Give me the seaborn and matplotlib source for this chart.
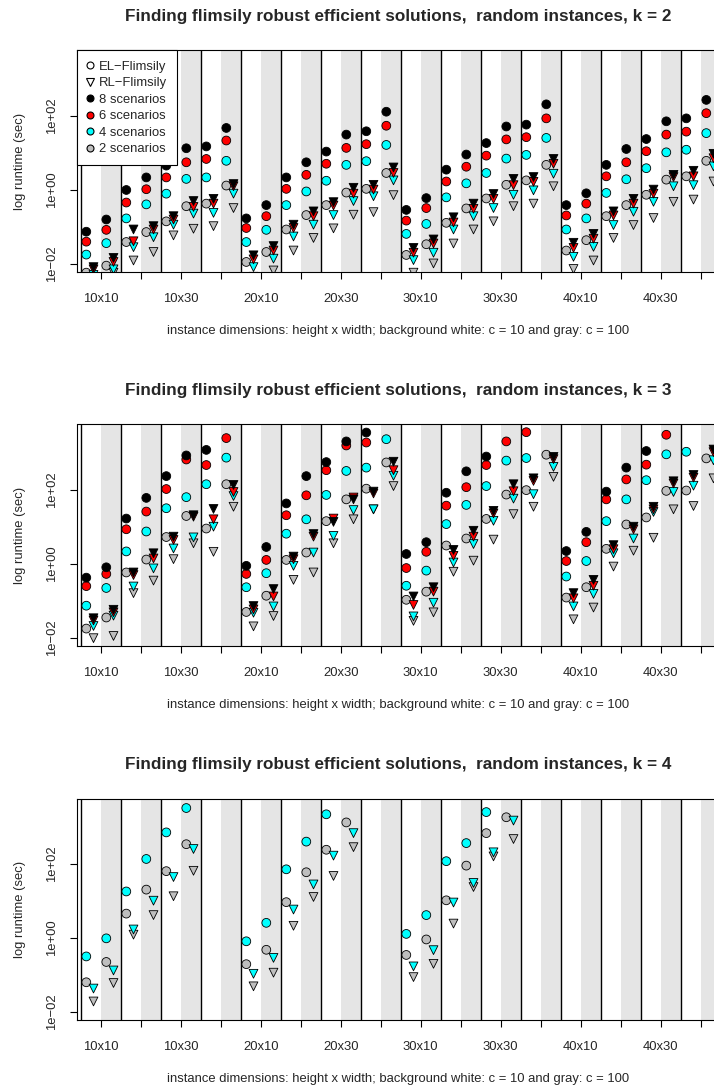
import numpy as np
import pandas as pd
import matplotlib
matplotlib.use("Agg")
import matplotlib.pyplot as plt
from matplotlib.lines import Line2D
import seaborn as sns

nan = np.nan

# Instance dimensions (height x width), one block per entry
DIMS = ["10x10", "10x20", "10x30", "10x40",
        "20x10", "20x20", "20x30", "20x40",
        "30x10", "30x20", "30x30", "30x40",
        "40x10", "40x20", "40x30", "40x40"]
C_VALUES = [10, 100]
SCENARIOS = [8, 6, 4, 2]
K_VALUES = [2, 3, 4]

# log10 of runtime in seconds, one list per number of scenarios
# ---- k = 2 ----
K2_EL_C10 = {
    8: [-1.13, 0.00, 0.66, 1.18, -0.77, 0.34, 1.04, 1.59, -0.54, 0.55, 1.27, 1.77, -0.41, 0.68, 1.38, 1.94],
    6: [-1.40, -0.34, 0.34, 0.84, -1.03, 0.03, 0.71, 1.24, -0.83, 0.23, 0.93, 1.43, -0.69, 0.37, 1.05, 1.58],
    4: [-1.75, -0.77, -0.10, 0.34, -1.41, -0.41, 0.25, 0.78, -1.19, -0.20, 0.46, 0.95, -1.07, -0.08, 0.59, 1.09],
    2: [-2.24, -1.41, -0.85, -0.37, -1.95, -1.07, -0.41, 0.03, -1.76, -0.89, -0.23, 0.26, -1.64, -0.71, -0.13, 0.37],
}
K2_RL_C10 = {
    8: [-2.09, -1.07, -0.71, -0.24, -1.77, -0.94, -0.33, 0.14, -1.57, -0.74, -0.11, 0.35, -1.43, -0.58, 0.01, 0.52],
    6: [-2.15, -1.39, -0.80, -0.37, -1.88, -1.03, -0.42, 0.01, -1.70, -0.88, -0.24, 0.22, -1.57, -0.69, -0.10, 0.37],
    4: [-2.30, -1.55, -0.94, -0.62, -2.09, -1.26, -0.68, -0.17, -1.90, -1.07, -0.49, -0.01, -1.81, -0.95, -0.32, 0.13],
    2: [-2.45, -1.91, -1.23, -0.98, -2.35, -1.64, -1.04, -0.60, -2.24, -1.45, -0.85, -0.37, -2.14, -1.30, -0.76, -0.26],
}
K2_EL_C100 = {
    8: [-0.80, 0.34, 1.13, 1.68, -0.41, 0.75, 1.50, 2.12, -0.22, 0.96, 1.72, 2.32, -0.09, 1.11, 1.86, 2.44],
    6: [-1.08, 0.02, 0.75, 1.34, -0.71, 0.41, 1.14, 1.74, -0.49, 0.63, 1.37, 1.94, -0.37, 0.75, 1.50, 2.08],
    4: [-1.44, -0.39, 0.30, 0.79, -1.08, -0.04, 0.68, 1.22, -0.92, 0.18, 0.85, 1.41, -0.77, 0.29, 1.02, 1.54],
    2: [-2.05, -1.14, -0.44, 0.12, -1.68, -0.68, -0.07, 0.46, -1.47, -0.50, 0.14, 0.68, -1.36, -0.41, 0.28, 0.79],
}
K2_RL_C100 = {
    8: [-1.84, -0.98, -0.30, 0.16, -1.52, -0.58, 0.06, 0.61, -1.34, -0.37, 0.30, 0.84, -1.19, -0.24, 0.41, 0.98],
    6: [-1.95, -1.07, -0.46, 0.10, -1.64, -0.71, -0.10, 0.46, -1.45, -0.51, 0.13, 0.71, -1.32, -0.37, 0.35, 0.86],
    4: [-2.15, -1.28, -0.64, -0.10, -1.86, -0.94, -0.30, 0.26, -1.70, -0.71, -0.13, 0.44, -1.54, -0.59, 0.10, 0.64],
    2: [-2.24, -1.68, -1.05, -0.49, -2.18, -1.30, -0.67, -0.14, -1.99, -1.07, -0.44, 0.10, -1.91, -0.95, -0.32, 0.23],
}

# ---- k = 3 ----  (nan: no result within the time limit)
K3_EL_C10 = {
    8: [-0.37, 1.23, 2.38, 3.09, -0.05, 1.64, 2.76, 3.56, 0.27, 1.93, 2.91, nan, 0.35, 1.96, 3.06, nan],
    6: [-0.60, 0.94, 2.03, 2.68, -0.27, 1.32, 2.54, 3.29, -0.11, 1.58, 2.68, 3.57, 0.08, 1.75, 2.69, nan],
    4: [-1.13, 0.34, 1.51, 2.16, -0.63, 0.82, 1.87, 2.61, -0.59, 1.08, 2.11, 2.87, -0.34, 1.16, 2.27, 3.04],
    2: [-1.75, -0.23, 0.73, 0.96, -1.30, 0.11, 1.16, 2.04, -0.97, 0.50, 1.22, 2.00, -0.91, 0.41, 1.26, 1.99],
}
K3_RL_C10 = {
    8: [-1.47, -0.23, 0.74, 1.49, -1.14, 0.20, 1.14, 1.96, -0.88, 0.38, 1.44, 2.32, -0.79, 0.51, 1.55, 2.41],
    6: [-1.53, -0.30, 0.65, 1.21, -1.23, 0.13, 1.23, 1.91, -1.11, 0.22, 1.37, 2.25, -0.93, 0.40, 1.48, 2.34],
    4: [-1.68, -0.61, 0.42, 1.01, -1.32, -0.05, 0.76, 1.48, -1.42, 0.04, 1.17, 1.89, -1.15, 0.29, 1.41, 2.12],
    2: [-2.01, -0.79, 0.13, 0.33, -1.69, -0.43, 0.56, 1.48, -1.54, -0.21, 0.66, 1.55, -1.50, -0.07, 0.71, 1.57],
}
K3_EL_C100 = {
    8: [-0.09, 1.79, 2.94, nan, 0.46, 2.38, 3.32, nan, 0.59, 2.51, nan, nan, 0.87, 2.61, nan, nan],
    6: [-0.27, 1.42, 2.83, 3.41, 0.11, 1.86, 3.21, nan, 0.33, 2.08, 3.32, nan, 0.59, 2.29, 3.50, nan],
    4: [-0.65, 0.88, 1.81, 2.88, -0.25, 1.21, 2.52, 3.38, -0.18, 1.60, 2.80, nan, 0.08, 1.75, 2.97, nan],
    2: [-1.45, 0.12, 1.30, 2.16, -0.86, 0.31, 1.75, 2.75, -0.75, 0.69, 1.88, 2.96, -0.63, 1.07, 1.98, 2.86],
}
K3_RL_C100 = {
    8: [-1.24, 0.29, 1.32, 2.14, -0.68, 0.81, 1.75, 2.77, -0.63, 0.90, 2.16, 2.90, -0.43, 1.01, 2.24, 3.10],
    6: [-1.31, 0.15, 1.28, 1.95, -0.88, 0.74, 1.80, 2.54, -0.75, 0.74, 1.97, 2.84, -0.59, 0.94, 2.18, 3.03],
    4: [-1.40, -0.12, 0.72, 1.84, -1.15, 0.31, 1.46, 2.39, -1.05, 0.54, 1.77, 2.63, -0.81, 0.69, 1.95, 2.81],
    2: [-1.95, -0.45, 0.56, 1.55, -1.41, -0.23, 1.21, 2.11, -1.31, 0.09, 1.35, 2.36, -1.18, 0.36, 1.48, 2.32],
}

# ---- k = 4 ----  (only 2 and 4 scenarios were run)
K4_EL_C10 = {
    4: [-0.50, 1.26, 2.86, nan, -0.09, 1.86, 3.35, nan, 0.11, 2.08, 3.41, nan, nan, nan, nan, nan],
    2: [-1.20, 0.66, 1.81, nan, -0.71, 0.97, 2.39, nan, -0.46, 1.02, 2.84, nan, nan, nan, nan, nan],
}
K4_RL_C10 = {
    4: [-1.37, 0.23, 1.65, nan, -0.97, 0.77, 2.23, nan, -0.77, 0.96, 2.32, nan, nan, nan, nan, nan],
    2: [-1.72, 0.09, 1.13, nan, -1.31, 0.33, 1.68, nan, -1.06, 0.39, 2.21, nan, nan, nan, nan, nan],
}
K4_EL_C100 = {
    4: [-0.01, 2.14, 3.52, nan, 0.41, 2.61, nan, nan, 0.62, 2.57, nan, nan, nan, nan, nan, nan],
    2: [-0.65, 1.31, 2.54, nan, -0.32, 1.78, 3.13, nan, -0.04, 1.96, 3.27, nan, nan, nan, nan, nan],
}
K4_RL_C100 = {
    4: [-0.88, 1.01, 2.41, nan, -0.54, 1.45, 2.84, nan, -0.33, 1.49, 3.18, nan, nan, nan, nan, nan],
    2: [-1.22, 0.62, 1.82, nan, -0.94, 1.11, 2.46, nan, -0.70, 1.38, 2.68, nan, nan, nan, nan, nan],
}

RESULTS = {
    (2, "EL", 10): K2_EL_C10, (2, "RL", 10): K2_RL_C10,
    (2, "EL", 100): K2_EL_C100, (2, "RL", 100): K2_RL_C100,
    (3, "EL", 10): K3_EL_C10, (3, "RL", 10): K3_RL_C10,
    (3, "EL", 100): K3_EL_C100, (3, "RL", 100): K3_RL_C100,
    (4, "EL", 10): K4_EL_C10, (4, "RL", 10): K4_RL_C10,
    (4, "EL", 100): K4_EL_C100, (4, "RL", 100): K4_RL_C100,
}

SCEN_COLORS = {8: "black", 6: "red", 4: "cyan", 2: "#BEBEBE"}
BAND_GRAY = "#E5E5E5"

# Horizontal placement inside a block: white half (c=10) on the left,
# gray half (c=100) on the right; EL circle then RL triangle in each half.
HALF_START = {10: -0.5, 100: 0.0}
METHOD_OFFSET = {"EL": 0.14, "RL": 0.32}
METHOD_ORDER = {"EL": 0, "RL": 1}

rows = []
for (k, method, c), table in RESULTS.items():
    for scen, values in table.items():
        for j, v in enumerate(values):
            if np.isnan(v):
                continue
            rows.append(dict(k=k, method=method, c=c, scen=scen,
                             dims=DIMS[j],
                             x=j + 1 + HALF_START[c] + METHOD_OFFSET[method],
                             runtime=10.0 ** v,
                             morder=METHOD_ORDER[method]))
df = pd.DataFrame(rows)
# circles first, then triangles; within each, 2 scenarios at the back, 8 on top
df = df.sort_values(["morder", "scen"], kind="stable").reset_index(drop=True)

sns.set_style("ticks")
plt.rcParams["font.family"] = ["Liberation Sans", "DejaVu Sans"]
plt.rcParams["axes.linewidth"] = 0.8

W, H = 714, 1089
fig = plt.figure(figsize=(W / 100, H / 100), dpi=100)

BASE_FS = 9.4
TITLE_FS = 12.3
AX_LEFT, AX_RIGHT = 76.5, 720.0
PX_PER_UNIT = 40.0
X0 = 0.5 - (80.7 - AX_LEFT) / PX_PER_UNIT
X1 = X0 + (AX_RIGHT - AX_LEFT) / PX_PER_UNIT
PANEL_STEP = 374
AX_H = 221.5

for i, k in enumerate(K_VALUES):
    top = 50.5 + PANEL_STEP * i
    bot = top + AX_H
    ax = fig.add_axes([AX_LEFT / W, 1 - bot / H, (AX_RIGHT - AX_LEFT) / W, AX_H / H])

    for j in range(len(DIMS)):
        ax.axvspan(j + 1, j + 1.5, color=BAND_GRAY, lw=0, zorder=0)
    for j in range(len(DIMS) + 1):
        ax.axvline(j + 0.5, color="black", lw=1.0, zorder=1)

    sub = df[df["k"] == k]
    sns.scatterplot(data=sub, x="x", y="runtime", hue="scen", palette=SCEN_COLORS,
                    style="method", markers={"EL": "o", "RL": "v"},
                    s=40, edgecolor="black", linewidth=0.6, legend=False,
                    ax=ax, zorder=3)

    ax.set_yscale("log")
    ax.set_ylim(10 ** -2.222, 10 ** 3.778)
    ax.set_xlim(X0, X1)

    ax.set_xticks(range(1, len(DIMS) + 1))
    ax.set_xticklabels([d if j % 2 == 0 else "" for j, d in enumerate(DIMS)], fontsize=BASE_FS)
    ax.set_yticks([1e-2, 1e0, 1e2])
    ax.set_yticklabels(["1e\u221202", "1e+00", "1e+02"], fontsize=BASE_FS,
                       rotation=90, va="center")
    ax.yaxis.set_minor_locator(matplotlib.ticker.NullLocator())
    ax.tick_params(axis="both", which="major", length=5, width=0.8, color="black")
    ax.tick_params(axis="x", pad=10)
    ax.tick_params(axis="y", pad=8)
    for sp in ax.spines.values():
        sp.set_color("black")
        sp.set_linewidth(0.8)

    ax.set_xlabel("instance dimensions: height x width; background white: c = 10 and gray: c = 100",
                  fontsize=BASE_FS)
    ax.xaxis.label.set_va("center")
    ax.xaxis.set_label_coords(0.5, -59.0 / AX_H)
    ax.set_ylabel("log runtime (sec)", fontsize=BASE_FS)
    ax.yaxis.label.set_va("center")
    ax.yaxis.set_label_coords((20 - AX_LEFT) / (AX_RIGHT - AX_LEFT), 0.5)

    fig.text(0.5 * (AX_LEFT + AX_RIGHT) / W, 1 - (16 + PANEL_STEP * i) / H,
             f"Finding flimsily robust efficient solutions,  random instances, k = {k}",
             ha="center", va="center", fontsize=TITLE_FS, fontweight="bold")

    if i == 0:
        handles = [
            Line2D([], [], ls="none", marker="o", mfc="white", mec="black", ms=5, mew=0.8,
                   label="EL\u2212Flimsily"),
            Line2D([], [], ls="none", marker="v", mfc="white", mec="black", ms=5.5, mew=0.8,
                   label="RL\u2212Flimsily"),
        ]
        for scen in SCENARIOS:
            handles.append(Line2D([], [], ls="none", marker="o", mfc=SCEN_COLORS[scen],
                                  mec="black", ms=5, mew=0.8, label=f"{scen} scenarios"))
        leg = ax.legend(handles=handles, loc="upper left", bbox_to_anchor=(0, 1),
                        borderaxespad=0, frameon=True, fancybox=False, framealpha=1,
                        edgecolor="black", fontsize=BASE_FS, handlelength=0.5,
                        handletextpad=0.45, labelspacing=0.34, borderpad=0.76)
        leg.get_frame().set_linewidth(0.8)
        leg.set_zorder(10)

fig.savefig("out.png", dpi=100)
